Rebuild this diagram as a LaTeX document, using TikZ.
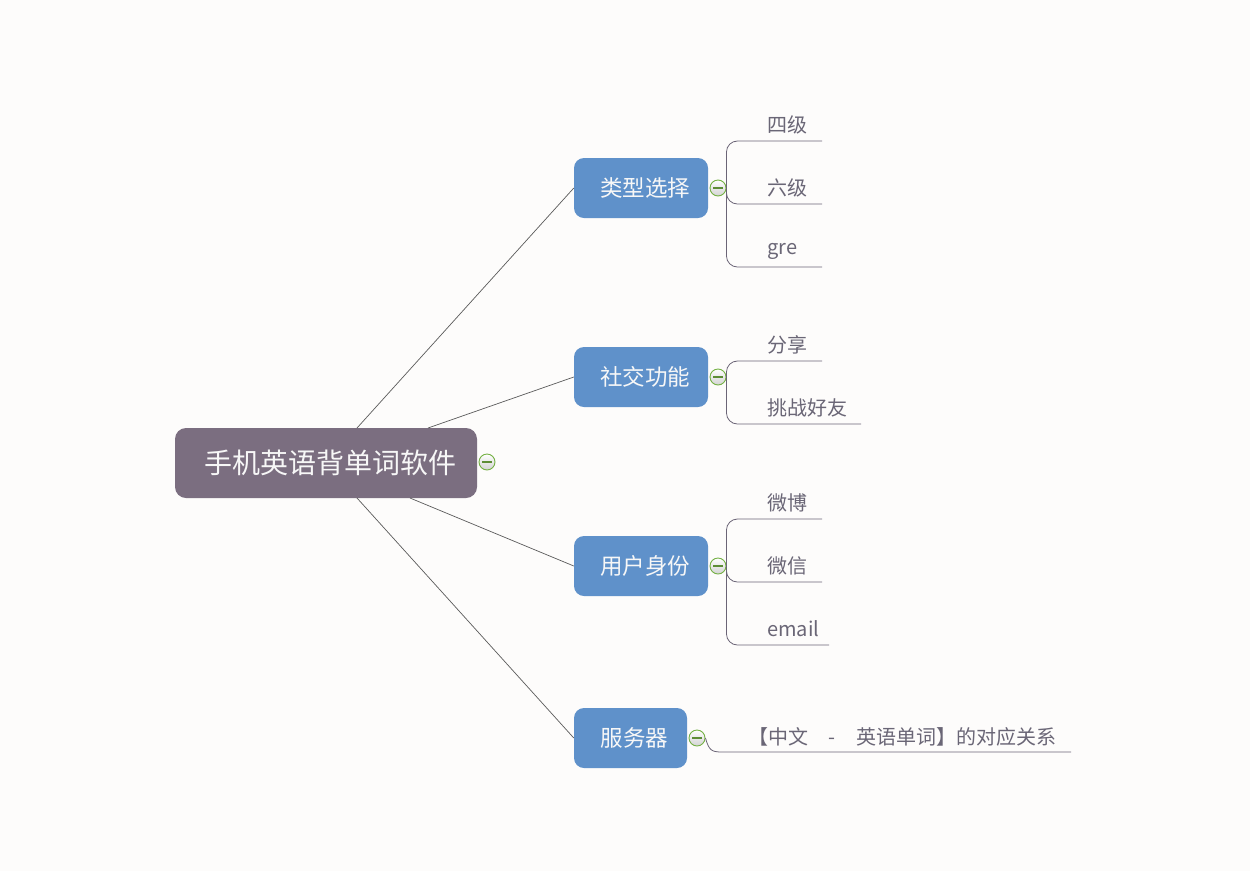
\documentclass[tikz,border=0pt]{standalone}
\usepackage{fontspec}
\setmainfont{Noto Sans CJK SC}
\begin{document}
\begin{tikzpicture}[x=1pt,y=-1pt,
  rootbox/.style={draw=none,fill=rootc,rounded corners=11,minimum width=302,minimum height=70,text=nodetext,font=\fontsize{28}{30}\selectfont,inner sep=0},
  topicbox/.style={draw=none,fill=topicc,rounded corners=10,minimum height=60,text=nodetext,font=\fontsize{22.5}{24}\selectfont,inner sep=0},
  leaf/.style={anchor=west,text=leafc,font=\fontsize{20}{22}\selectfont,inner sep=0},
  collapse/.style={circle,draw=greenc,line width=0.9,minimum size=16,inner sep=0,top color=white,bottom color=gray!35,
    path picture={\draw[greenc!80!black,line width=1.1] ([xshift=-5]path picture bounding box.center) -- ([xshift=5]path picture bounding box.center);}},
  conn/.style={draw=linec,line width=0.7},
  branch/.style={draw=branchc,line width=0.8,rounded corners=11}]
\definecolor{bgc}{HTML}{FDFCFB}
\definecolor{rootc}{HTML}{7B6E80}
\definecolor{topicc}{HTML}{5F91CA}
\definecolor{nodetext}{HTML}{F7F7F7}
\definecolor{leafc}{HTML}{6A6676}
\definecolor{linec}{HTML}{5A5A5A}
\definecolor{branchc}{HTML}{6B6476}
\definecolor{greenc}{HTML}{74B043}
\fill[bgc] (0,0) rectangle (1250,871);
\useasboundingbox (0,0) rectangle (1250,871);

% root
\node[rootbox] (root) at (326,463) {\hspace{8pt}手机英语背单词软件};
\node[collapse] (rc) at (487,462) {};

% topics
\node[topicbox,minimum width=134] (t1) at (641,188) {\hspace{8pt}类型选择};
\node[topicbox,minimum width=134] (t2) at (641,377) {\hspace{8pt}社交功能};
\node[topicbox,minimum width=134] (t3) at (641,566) {\hspace{8pt}用户身份};
\node[topicbox,minimum width=113] (t4) at (630.5,738) {\hspace{8pt}服务器};

\node[collapse] (c1) at (718,188) {};
\node[collapse] (c2) at (718,377) {};
\node[collapse] (c3) at (718,566) {};
\node[collapse] (c4) at (697,738) {};

% root connectors
\coordinate (r1) at (357,428);
\coordinate (r2) at (428,428);
\coordinate (r3) at (410,498);
\coordinate (r4) at (357,498);
\draw[conn] (r1) -- (t1.west);
\draw[conn] (r2) -- (t2.west);
\draw[conn] (r3) -- (t3.west);
\draw[conn] (r4) -- (t4.west);

% leaves
\node[leaf] (l11) at (767,125) {四级};
\node[leaf] (l12) at (767,188) {六级};
\node[leaf] (l13) at (767,251) {gre};
\node[leaf] (l21) at (767,345) {分享};
\node[leaf] (l22) at (767,408) {挑战好友};
\node[leaf] (l31) at (767,503) {微博};
\node[leaf] (l32) at (767,566) {微信};
\node[leaf] (l33) at (767,629) {email};
\node[leaf] (l41) at (748,737) {【中文\hspace{20pt}-\hspace{21pt}英语单词】的对应关系};

\coordinate (e11) at (822,141);
\coordinate (e12) at (822,204);
\coordinate (e13) at (822,267);
\coordinate (e21) at (822,361);
\coordinate (e22) at (861,424);
\coordinate (e31) at (822,519);
\coordinate (e32) at (822,582);
\coordinate (e33) at (829,645);
\coordinate (e41) at (1071,752);

\draw[branch] (c1.east) |- (e11);
\draw[branch] (c1.east) |- (e12);
\draw[branch] (c1.east) |- (e13);
\draw[branch] (c2.east) |- (e21);
\draw[branch] (c2.east) |- (e22);
\draw[branch] (c3.east) |- (e31);
\draw[branch] (c3.east) |- (e32);
\draw[branch] (c3.east) |- (e33);
\draw[draw=branchc,line width=0.8] (c4.east) .. controls (709,750) and (711,752) .. (722,752) -- (e41);
\end{tikzpicture}
\end{document}
